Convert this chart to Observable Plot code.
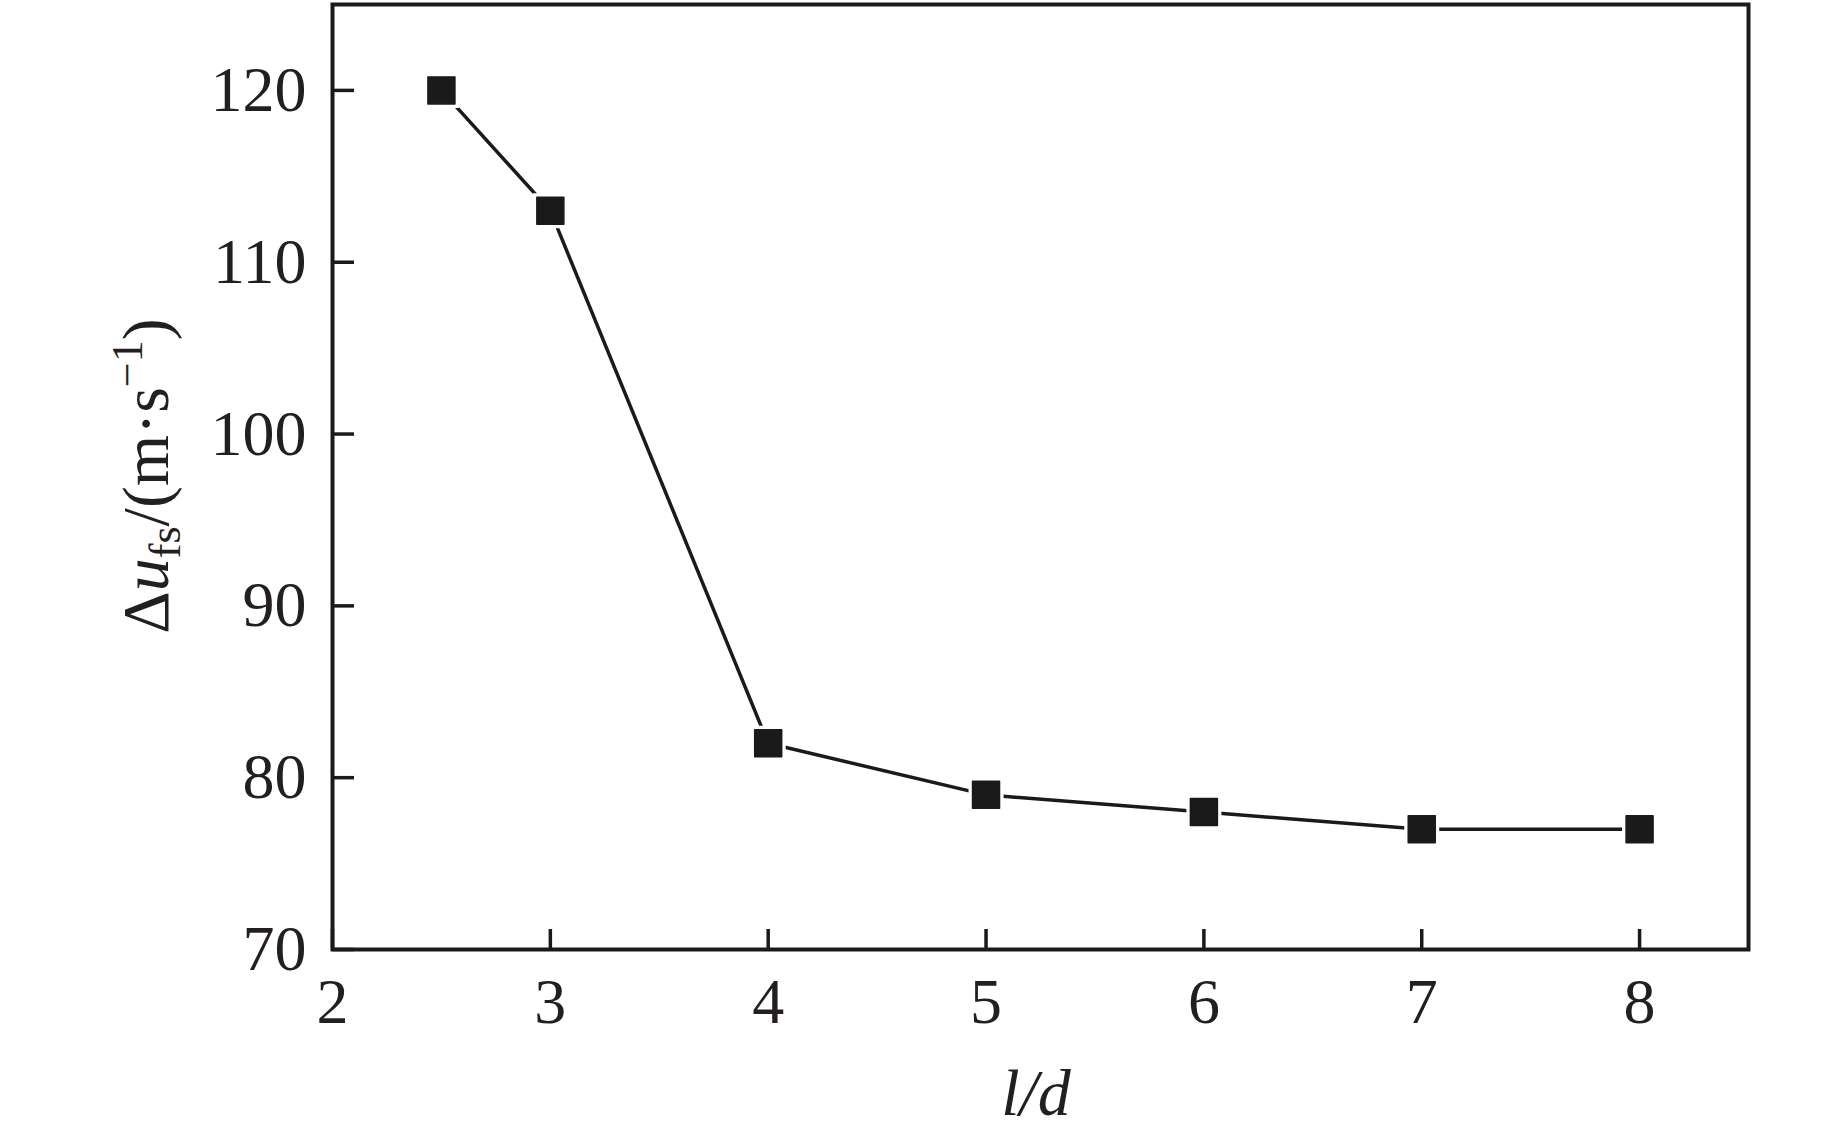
<!DOCTYPE html>
<html>
<head>
<meta charset="utf-8">
<script src="https://cdn.jsdelivr.net/npm/d3@7"></script>
<script src="https://cdn.jsdelivr.net/npm/@observablehq/plot@0.6"></script>
<style>
  html, body { margin: 0; padding: 0; background: #fff; }
  #chart { width: 1843px; height: 1136px; }
</style>
</head>
<body>
<div id="chart"></div>
<script>
// Data
const ratio = [2.5, 3, 4, 5, 6, 7, 8];          // l/d
const deltaU = [120, 113, 82, 79, 78, 77, 77];  // Δu_fs (m·s⁻¹)
const xTicks = [2, 3, 4, 5, 6, 7, 8];
const yTicks = [70, 80, 90, 100, 110, 120];

const data = ratio.map((r, i) => ({r, u: deltaU[i]}));
const ink = "#1a1a1a";
const side = 27, halo = 35;
const rOf = s => s / Math.sqrt(Math.PI);

const plot = Plot.plot({
  width: 1843,
  height: 1136,
  marginLeft: 332,
  marginRight: 95,
  marginTop: 4,
  marginBottom: 187,
  style: {fontFamily: "'Liberation Serif', 'Times New Roman', serif", fontSize: "64px", color: "#231f20", background: "#fff"},
  x: {domain: [2, 8.5], label: null},
  y: {domain: [70, 125], label: null},
  marks: [
    Plot.axisX({ticks: xTicks, tickSize: -20, tickPadding: 48, strokeWidth: 3.5, stroke: ink, tickFormat: d => String(d)}),
    Plot.axisY({ticks: yTicks, tickSize: -22, tickPadding: 48, strokeWidth: 3.5, stroke: ink, tickFormat: d => String(d)}),
    Plot.line(data, {x: "r", y: "u", stroke: ink, strokeWidth: 3.5}),
    Plot.dot(data, {x: "r", y: "u", symbol: "square", r: rOf(halo), fill: "#fff", stroke: "none"}),
    Plot.dot(data, {x: "r", y: "u", symbol: "square", r: rOf(side), fill: ink, stroke: ink, strokeWidth: 1.5, strokeLinejoin: "round"}),
    Plot.frame({stroke: ink, strokeWidth: 4})
  ]
});
document.getElementById("chart").appendChild(plot);

// Axis titles with rich formatting
const svg = d3.select(plot);
const ff = "'Liberation Serif', 'Times New Roman', serif";
const yl = svg.append("text")
  .attr("transform", "translate(168,476) rotate(-90)")
  .attr("text-anchor", "middle")
  .attr("font-family", ff)
  .attr("font-size", 66)
  .attr("fill", "#231f20");
yl.append("tspan").text("Δ");
yl.append("tspan").attr("font-style", "italic").text("u");
yl.append("tspan").attr("font-size", 44).attr("dy", 12).text("fs");
yl.append("tspan").attr("dy", -12).text("/(m·s");
yl.append("tspan").attr("font-size", 44).attr("dy", -26).text("−1");
yl.append("tspan").attr("dy", 26).text(")");

const xl = svg.append("text")
  .attr("x", 1036)
  .attr("y", 1115)
  .attr("text-anchor", "middle")
  .attr("font-family", ff)
  .attr("font-size", 66)
  .attr("font-style", "italic")
  .attr("fill", "#231f20")
  .text("l/d");
</script>
</body>
</html>
